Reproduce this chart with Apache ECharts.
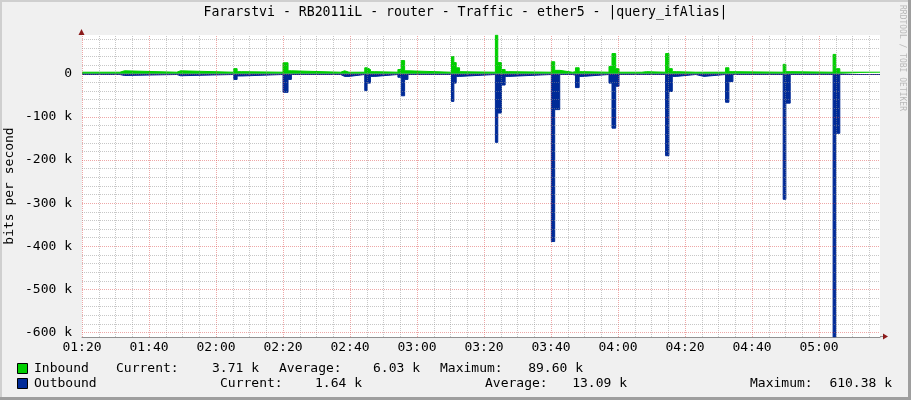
<!DOCTYPE html>
<html><head><meta charset="utf-8">
<script src="https://cdn.jsdelivr.net/npm/echarts@6/dist/echarts.min.js"></script>
<style>html,body{margin:0;padding:0;background:#F0F0F0}#c{width:911px;height:400px}</style>
</head><body><div id="c"></div>
<script>
// ---- data (times: minutes after 01:20, values in kbit/s) ----
const chartTitle = 'Fararstvi - RB2011iL - router - Traffic - ether5 - |query_ifAlias|';
const yTitle = 'bits per second';
const startMinuteOfDay = 80; // 01:20
const xMax = 238.2;
const times = [0, 11.3, 12.7, 28.3, 29.4, 45.3, 46.3, 47.7, 60.0, 61.5,
  62.5, 77.2, 78.4, 79.7, 84.4, 85.1, 86.1, 87.4, 87.9, 94.3,
  95.3, 96.3, 97.3, 110.3, 111.0, 111.7, 112.7, 113.2, 123.4, 124.1,
  125.2, 126.3, 127.4, 140.1, 141.1, 142.6, 146.4, 147.3, 148.4, 149.5,
  157.3, 158.2, 159.3, 160.3, 167.1, 168.5, 174.2, 175.2, 176.2, 177.4,
  183.2, 185.6, 192.1, 193.1, 194.3, 209.3, 210.1, 211.4, 224.2, 225.0,
  226.2, 238.2];
const inbound = [3.7, 7, 3.7, 7, 3.7, 12, 5, 3.7, 25.6, 7,
  3.7, 7, 3.7, 3.7, 14, 10, 5, 3.7, 3.7, 10,
  30.7, 7, 3.7, 40, 26, 14, 5, 3.7, 89.6, 26,
  10, 5, 3.7, 28, 8, 3.7, 5, 14, 5, 3.7,
  17, 47, 12, 3.7, 5, 3.7, 47, 12, 5, 3.7,
  3.7, 3.7, 14, 5, 3.7, 22, 5, 3.7, 45, 12,
  3.7, 3.71];
const outbound = [1.6, 4, 1.6, 4.5, 1.6, 13, 5, 1.6, 43, 13,
  1.6, 6, 6, 1.6, 39, 21.6, 6, 6, 1.6, 8,
  51, 13, 1.6, 64, 21.6, 6, 6, 1.6, 159, 91,
  26, 6, 1.6, 389, 83, 1.6, 3, 32, 6, 1.6,
  21.6, 126, 29, 1.6, 1.6, 1.6, 190, 41, 6, 1.6,
  6, 1.6, 66, 18, 1.6, 291, 68, 1.6, 610.38, 138,
  1.6, 1.64];
const xGridTicks = [0,5,10,15,20,25,30,35,40,45,50,55,60,65,70,75,80,85,90,95,100,105,110,115,
  120,125,130,135,140,145,150,155,160,165,170,175,180,185,190,195,200,205,210,215,220,225,230,235];
const xLabelTicks = [0,20,40,60,80,100,120,140,160,180,200,220];
const yGridTicks = [-600,-580,-560,-540,-520,-500,-480,-460,-440,-420,-400,-380,-360,-340,-320,
  -300,-280,-260,-240,-220,-200,-180,-160,-140,-120,-100,-80,-60,-40,-20,0,20,40,60,80];
const yLabelTicks = [-600,-500,-400,-300,-200,-100,0];
const yMin = -610.4, yMax = 90;
const legendRows = [
  {name:'Inbound', current:'3.71 k', average:'6.03 k', maximum:'89.60 k'},
  {name:'Outbound', current:'1.64 k', average:'13.09 k', maximum:'610.38 k'}
];

// ---- chart ----
const FONT = 'DejaVu Sans Mono';
const GREEN = '#00CF00', BLUE = '#002A97';
const MINOR = 'rgba(143,143,143,0.5)', MAJOR = 'rgba(222,80,80,0.5)';
const G = {left: 82, top: 35, right: 880, bottom: 337};

function clock(m) {
  const t = startMinuteOfDay + m;
  const h = Math.floor(t / 60), mm = Math.round(t % 60);
  return String(h).padStart(2,'0') + ':' + String(mm).padStart(2,'0');
}
// each sample holds its value until the next sample time
function stepped(vals, sign) {
  const out = [];
  for (let i = 0; i < times.length - 1; i++) {
    out.push([times[i], sign * vals[i]]);
    out.push([times[i + 1], sign * vals[i]]);
  }
  return out;
}

const chart = echarts.init(document.getElementById('c'), null, {renderer: 'canvas'});

const txt = (x, y, s, align, size) => ({
  type: 'text', x: x, y: y, silent: true,
  style: {text: s, fontFamily: FONT, fontSize: size || 13, fill: '#000', align: align || 'left', verticalAlign: 'middle'}
});

const legendLayout = [
  {y: 369, name: 34, cur: 116, curV: 259, avg: 279, avgV: 420, max: 440, maxV: 583, color: GREEN},
  {y: 384, name: 34, cur: 220, curV: 362, avg: 485, avgV: 627, max: 750, maxV: 892, color: BLUE}
];
const graphics = [
  {type:'rect', shape:{x:0,y:0,width:911,height:2}, style:{fill:'#CFCFCF'}, silent:true},
  {type:'rect', shape:{x:0,y:0,width:2,height:400}, style:{fill:'#CFCFCF'}, silent:true},
  {type:'rect', shape:{x:908,y:0,width:3,height:400}, style:{fill:'#9E9E9E'}, silent:true},
  {type:'rect', shape:{x:0,y:397,width:911,height:3}, style:{fill:'#9E9E9E'}, silent:true},
  txt(465.5, 13, chartTitle, 'center', 13.2),
  {type:'text', x: 902, y: 5, rotation: -Math.PI/2, silent: true,
   style:{text:'RRDTOOL / TOBI OETIKER', fontFamily: FONT, fontSize: 8, fill:'#B8B8B8', align:'left', verticalAlign:'middle'}},
  {type:'line', shape:{x1:G.right, y1:G.bottom-0.5, x2:G.right+4, y2:G.bottom-0.5}, style:{stroke:'#909090', lineWidth:1}, silent:true},
  {type:'polygon', shape:{points:[[G.right+3,G.bottom-3.5],[G.right+8,G.bottom-0.5],[G.right+3,G.bottom+2.5]]}, style:{fill:'#8B1A1A'}, silent:true},
  {type:'polygon', shape:{points:[[G.left-3.5,G.top],[G.left-0.5,G.top-6],[G.left+2.5,G.top]]}, style:{fill:'#8B1A1A'}, silent:true},
  txt(10, 186, yTitle, 'center', 13)
];
graphics[graphics.length - 1].rotation = Math.PI / 2;
legendRows.forEach((r, i) => {
  const L = legendLayout[i];
  graphics.push({type:'rect', shape:{x:17.5, y:L.y-5.5, width:10, height:10}, style:{fill:L.color, stroke:'#000', lineWidth:1}, silent:true});
  graphics.push(txt(L.name, L.y, r.name));
  graphics.push(txt(L.cur, L.y, 'Current:'));
  graphics.push(txt(L.curV, L.y, r.current, 'right'));
  graphics.push(txt(L.avg, L.y, 'Average:'));
  graphics.push(txt(L.avgV, L.y, r.average, 'right'));
  graphics.push(txt(L.max, L.y, 'Maximum:'));
  graphics.push(txt(L.maxV, L.y, r.maximum, 'right'));
});

const gridLineStyle = c => ({color: c, width: 1, type: [1, 1]});
const gridMarks = [].concat(
  xGridTicks.map(v => ({xAxis: v, lineStyle: gridLineStyle(v % 20 === 0 ? MAJOR : MINOR)})),
  yGridTicks.map(v => ({yAxis: v, lineStyle: gridLineStyle(v % 100 === 0 ? MAJOR : MINOR)}))
);

const option = {
  backgroundColor: '#F0F0F0',
  animation: false,
  textStyle: {fontFamily: FONT},
  grid: {left: G.left, top: G.top, width: G.right - G.left, height: G.bottom - G.top,
         show: true, backgroundColor: '#FFFFFF', borderWidth: 0, outerBoundsMode: 'none', containLabel: false},
  xAxis: {
    type: 'value', min: 0, max: xMax,
    axisLine: {show: true, onZero: false, lineStyle: {color: '#909090', width: 1}},
    axisTick: {show: false},
    axisLabel: {customValues: xLabelTicks, formatter: v => clock(v), fontFamily: FONT, fontSize: 13, color: '#000', margin: 4},
    splitLine: {show: false}
  },
  yAxis: {
    type: 'value', min: yMin, max: yMax,
    axisLine: {show: false},
    axisTick: {show: false},
    axisLabel: {customValues: yLabelTicks, formatter: v => v === 0 ? '0' : (v + ' k'), fontFamily: FONT, fontSize: 13, color: '#000', margin: 10},
    splitLine: {show: false}
  },
  series: [
    {name: 'Inbound', type: 'line', symbol: 'none', z: 2,
     lineStyle: {color: GREEN, width: 1}, areaStyle: {color: GREEN, opacity: 1},
     data: stepped(inbound, 1)},
    {name: 'Outbound', type: 'line', symbol: 'none', z: 2,
     lineStyle: {color: BLUE, width: 1}, areaStyle: {color: BLUE, opacity: 1},
     data: stepped(outbound, -1)},
    {name: 'grid', type: 'line', data: [], z: 4, silent: true,
     markLine: {silent: true, symbol: ['none', 'none'], animation: false, label: {show: false},
                emphasis: {disabled: true}, data: gridMarks}}
  ],
  graphic: graphics
};
chart.setOption(option);
</script></body></html>
